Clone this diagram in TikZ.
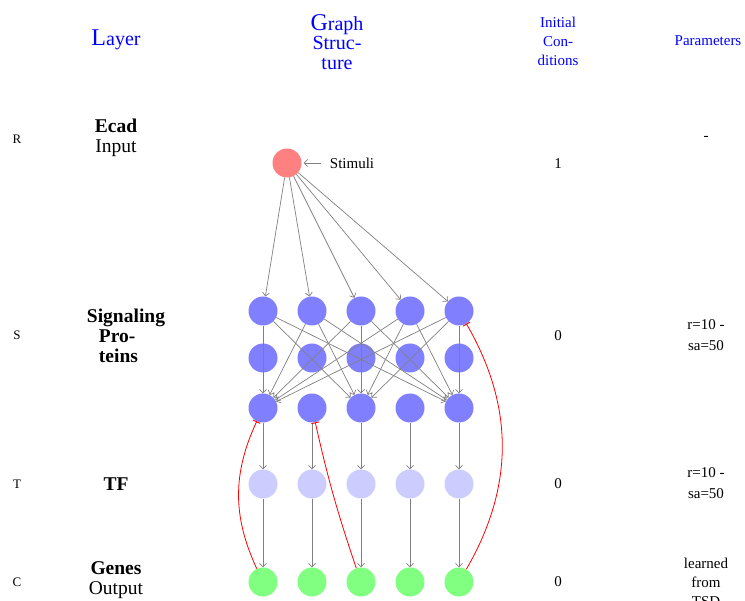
\documentclass[tikz,border=0pt]{standalone}
\usepackage{fontspec}
\setmainfont{Liberation Serif}
\usetikzlibrary{arrows.meta, positioning}

\begin{document}
\begin{tikzpicture}[x=1pt,y=-1pt,node distance=49pt,on grid,>={Straight Barb[length=3.5pt,width=7pt]},
      every node/.style={font=\fontsize{15}{19}\selectfont,align=center},
      unit/.style={circle,minimum size=29pt,inner sep=0pt},
      stim/.style={unit,fill=red!50}, sig/.style={unit,fill=blue!50},
      tf/.style={unit,fill=blue!20}, gene/.style={unit,fill=green!50},
      edge/.style={->,gray,line width=0.7pt},
      inhib/.style={-{Bar[width=8pt,line width=0.9pt]},red,line width=0.8pt},
      head/.style={text=blue},
      layer/.style={font=\fontsize{19.5}{20}\selectfont},
      row/.style={font=\fontsize{13}{15}\selectfont}]
      \clip (0,0) rectangle (745,601);
      % header
      \node[head,font=\fontsize{20}{20}\selectfont] (hLayer) at (116,40) {{\fontsize{24}{20}\selectfont L}ayer};
      \node[head,font=\fontsize{20}{19.5}\selectfont] (hGraph) at (337,42) {{\fontsize{24}{20}\selectfont G}raph\\Struc-\\ture};
      \node[head] (hInit) at (558,41) {Initial\\Con-\\ditions};
      \node[head] (hPar) at (708,41) {Parameters};
      % graph
      \node[stim] (r) at (287,163) {};
      \node (stimuli) [right=65pt of r] {Stimuli};
      \node[sig] (a1) at (263,311) {};
      \foreach \i [count=\j from 2] in {1,...,4}
        \node[sig] (a\j) [right=of a\i] {};
      \foreach \i in {1,...,5} {
        \node[sig]  (b\i) [below=47pt of a\i] {};
        \node[sig]  (c\i) [below=50pt of b\i] {};
        \node[tf]   (t\i) [below=76pt of c\i] {};
        \node[gene] (g\i) [below=98pt of t\i] {};
      }
      \draw[edge,shorten <=5pt,shorten >=2pt] (stimuli) -- (r);
      \foreach \i in {1,...,5} {
        \draw[edge] (r) -- (a\i);
        \draw[edge] (c\i) -- (t\i);
        \draw[edge] (t\i) -- (g\i);
        \foreach \k in {1,3,5}
          \draw[edge] (a\i) -- (c\k);
      }
      \draw[inhib] (g1) to[bend left=25] (c1);
      \draw[inhib] (g3) to[bend left=3] (c2);
      \draw[inhib] (g5) to[bend right=30] (a5);
      % rows
      \node[row] (rR) at (17,139) {R};
      \node[row] (rS) at (17,335) {S};
      \node[row] (rT) at (17,484) {T};
      \node[row] (rC) at (17,582) {C};
      \node[layer] (lR) at (116,138) {\textbf{Ecad}\\Input};
      \node[layer,align=left] (lS) at (126,336) {\textbf{Signaling}\\\hspace*{12pt}\textbf{Pro-}\\\hspace*{12pt}\textbf{teins}};
      \node[layer] (lT) at (116,484) {\textbf{TF}};
      \node[layer] (lC) at (116,580) {\textbf{Genes}\\Output};
      % initial conditions
      \node (iR) at (558,164) {1};
      \node (iS) at (558,336) {0};
      \node (iT) at (558,484) {0};
      \node (iC) at (558,582) {0};
      % parameters
      \node (pR) at (706,138) {-};
      \node[font=\fontsize{15}{21}\selectfont] (pS) at (706,335) {r=10 -\\sa=50};
      \node[font=\fontsize{15}{21}\selectfont] (pT) at (706,483) {r=10 -\\sa=50};
      \node (pC) at (706,582) {learned\\from\\TSD};
\end{tikzpicture}
\end{document}
